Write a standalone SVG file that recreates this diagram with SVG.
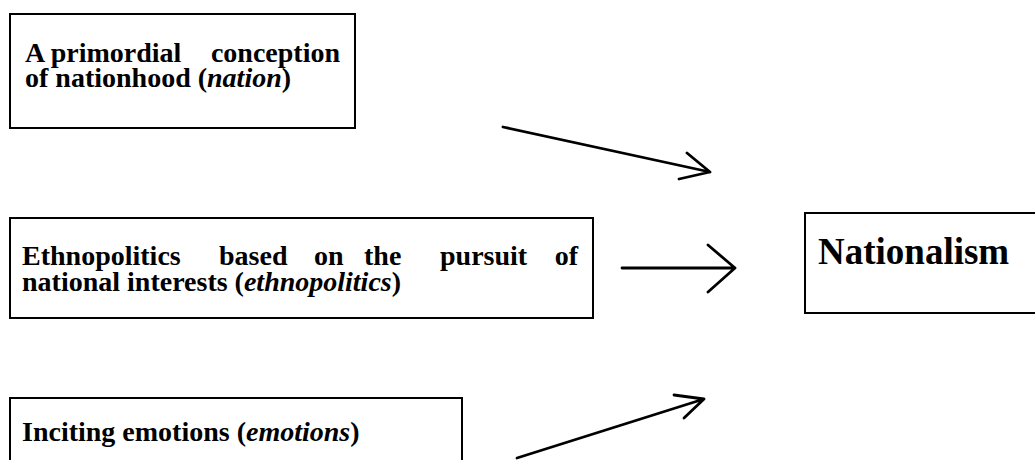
<svg xmlns="http://www.w3.org/2000/svg" width="1035" height="460" viewBox="0 0 1035 460">
<style>
.box{fill:#fff;stroke:#000;stroke-width:2}
.t{font-family:"Liberation Serif","Times New Roman",serif;font-weight:bold;font-size:28px;fill:#000}
.big{font-size:37px}
.i{font-style:italic}
.c{fill:none;stroke:#000;stroke-width:2.8;stroke-linecap:round;stroke-linejoin:round}
</style>
<rect width="1035" height="460" fill="#fff"/>
<g id="node-nation">
<rect class="box" x="10" y="14" width="345" height="114"/>
<text class="t" x="25" y="62">A primordial</text>
<text class="t" x="340" y="62" text-anchor="end">conception</text>
<text class="t" x="25" y="87">of nationhood (<tspan class="i">nation</tspan>)</text>
</g>
<g id="node-ethnopolitics">
<rect class="box" x="10" y="218" width="583" height="100"/>
<text class="t" x="22" y="265">Ethnopolitics</text>
<text class="t" x="219" y="265">based</text>
<text class="t" x="314" y="265">on</text>
<text class="t" x="364" y="265">the</text>
<text class="t" x="440" y="265">pursuit</text>
<text class="t" x="578" y="265" text-anchor="end">of</text>
<text class="t" x="22" y="291">national interests (<tspan class="i">ethnopolitics</tspan>)</text>
</g>
<g id="node-emotions">
<rect class="box" x="10" y="398" width="452" height="80"/>
<text class="t" x="22" y="441">Inciting emotions (<tspan class="i">emotions</tspan>)</text>
</g>
<g id="node-nationalism">
<rect class="box" x="805" y="213" width="245" height="100"/>
<text class="t big" x="818" y="264">Nationalism</text>
</g>
<g id="connectors">
<path class="c" d="M503,127 L710,172 M687,153 L710,172 L679,179"/>
<path class="c" d="M622,268 L735,268 M708,245 L735,268 L708,292"/>
<path class="c" d="M517,458 L704,399 M674,395 L704,399 L684,418"/>
</g>
</svg>
